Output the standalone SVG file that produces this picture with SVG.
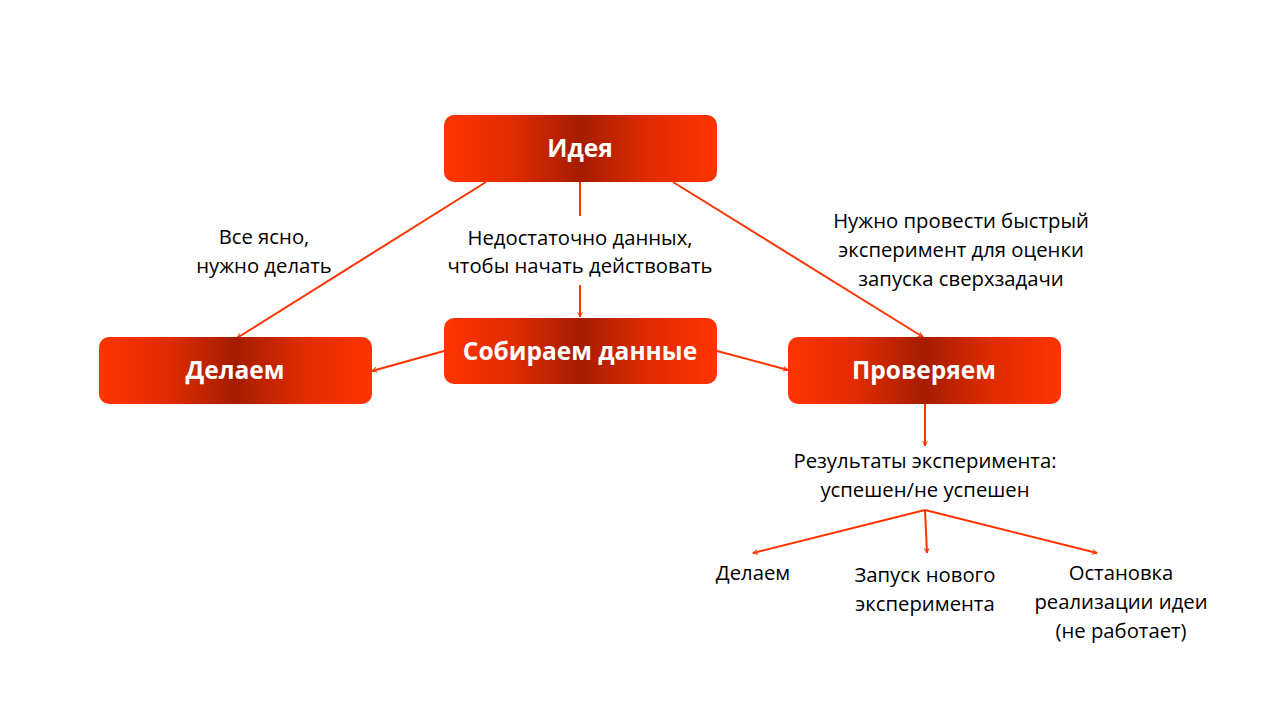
<svg xmlns="http://www.w3.org/2000/svg" width="1280" height="720" viewBox="0 0 1280 720">
<style>
.node{fill:url(#g);}
.nt{font-family:"Open Sans","Liberation Sans",sans-serif;font-weight:bold;font-size:24.5px;fill:#fff;text-anchor:middle;}
.lb{font-family:"Open Sans","Liberation Sans",sans-serif;font-size:20.3px;fill:#000;text-anchor:middle;}
.c{stroke:#FF3300;stroke-width:2;fill:none;}
.a{marker-end:url(#ar);}
</style>
<defs>
<linearGradient id="g" x1="0" y1="0" x2="1" y2="0">
<stop offset="0" stop-color="#FF3300"/>
<stop offset="0.25" stop-color="#E02C00"/>
<stop offset="0.5" stop-color="#A51C00"/>
<stop offset="0.75" stop-color="#E02C00"/>
<stop offset="1" stop-color="#FF3300"/>
</linearGradient>
<marker id="ar" viewBox="0 0 10 10" refX="9" refY="5" markerWidth="6" markerHeight="6" orient="auto" markerUnits="userSpaceOnUse" overflow="visible">
<path d="M1,1 L9,5 L1,9" fill="none" stroke="#FF3300" stroke-width="1.6"/>
</marker>
</defs>
<rect width="1280" height="720" fill="#fff"/>
<g id="connectors">
<line class="c a" x1="486" y1="182" x2="237" y2="338"/>
<line class="c" x1="580" y1="182" x2="580" y2="216"/>
<line class="c a" x1="580" y1="285" x2="580" y2="317"/>
<line class="c a" x1="673" y1="182" x2="923" y2="337"/>
<line class="c a" x1="444" y1="351" x2="372" y2="371"/>
<line class="c a" x1="717" y1="351" x2="788" y2="370"/>
<line class="c a" x1="925" y1="404" x2="925" y2="446"/>
<line class="c a" x1="925" y1="510" x2="753" y2="553"/>
<line class="c a" x1="925" y1="510" x2="927" y2="553"/>
<line class="c a" x1="925" y1="510" x2="1097" y2="553"/>
</g>
<g id="idea">
<rect class="node" x="444" y="115" width="273" height="67" rx="10"/>
<text class="nt" x="580" y="157">Идея</text>
</g>
<g id="delaem">
<rect class="node" x="99" y="337" width="273" height="67" rx="10"/>
<text class="nt" x="235" y="379">Делаем</text>
</g>
<g id="sobiraem">
<rect class="node" x="444" y="318" width="273" height="66" rx="10"/>
<text class="nt" x="580" y="360">Собираем данные</text>
</g>
<g id="proveryaem">
<rect class="node" x="788" y="337" width="273" height="67" rx="10"/>
<text class="nt" x="924" y="379">Проверяем</text>
</g>
<g id="labels">
<text class="lb" x="264" y="244">Все ясно,</text>
<text class="lb" x="264" y="273">нужно делать</text>
<text class="lb" x="580" y="245">Недостаточно данных,</text>
<text class="lb" x="580" y="273">чтобы начать действовать</text>
<text class="lb" x="961" y="228">Нужно провести быстрый</text>
<text class="lb" x="961" y="257">эксперимент для оценки</text>
<text class="lb" x="961" y="286">запуска сверхзадачи</text>
<text class="lb" x="925" y="468">Результаты эксперимента:</text>
<text class="lb" x="925" y="497">успешен/не успешен</text>
<text class="lb" x="753" y="580">Делаем</text>
<text class="lb" x="925" y="582">Запуск нового</text>
<text class="lb" x="925" y="611">эксперимента</text>
<text class="lb" x="1121" y="580">Остановка</text>
<text class="lb" x="1121" y="609">реализации идеи</text>
<text class="lb" x="1121" y="638">(не работает)</text>
</g>
</svg>
